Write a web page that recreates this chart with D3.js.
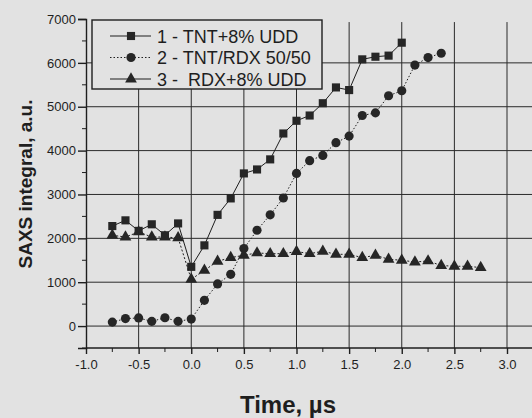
<!DOCTYPE html>
<html>
<head>
<meta charset="utf-8">
<script src="https://cdn.jsdelivr.net/npm/d3@7"></script>
<style>
  body { margin: 0; background: #e2e2e2; }
  svg { display: block; font-family: "Liberation Sans", Arial, sans-serif; }
</style>
</head>
<body>
<svg id="chart" width="532" height="418"></svg>
<script>
// time axis, microseconds
const timeTnt = [-0.75, -0.625, -0.5, -0.375, -0.25, -0.125, 0, 0.125, 0.25, 0.375, 0.5, 0.625,
  0.75, 0.875, 1.0, 1.125, 1.25, 1.375, 1.5, 1.625, 1.75, 1.875, 2.0];
const timeMix = [-0.75, -0.625, -0.5, -0.375, -0.25, -0.125, 0, 0.125, 0.25, 0.375, 0.5, 0.625,
  0.75, 0.875, 1.0, 1.125, 1.25, 1.375, 1.5, 1.625, 1.75, 1.875, 2.0, 2.125, 2.25, 2.375];
const timeRdx = [-0.75, -0.625, -0.5, -0.375, -0.25, -0.125, 0, 0.125, 0.25, 0.375, 0.5, 0.625,
  0.75, 0.875, 1.0, 1.125, 1.25, 1.375, 1.5, 1.625, 1.75, 1.875, 2.0, 2.125, 2.25, 2.375,
  2.5, 2.625, 2.75];

// SAXS integral, a.u.
const tntUdd = [2280, 2410, 2170, 2320, 2070, 2340, 1350, 1840, 2535, 2910, 3480, 3570,
  3800, 4390, 4680, 4800, 5080, 5440, 5380, 6080, 6140, 6165, 6460];
const tntRdx = [90, 170, 185, 107, 190, 107, 160, 587, 960, 1180, 1767, 2185,
  2535, 2920, 3480, 3770, 3890, 4180, 4330, 4800, 4860, 5250, 5365, 5950, 6120, 6220];
const rdxUdd = [2070, 2030, 2145, 2030, 2030, 2010, 1066, 1270, 1477, 1560, 1614, 1667,
  1650, 1650, 1700, 1650, 1705, 1636, 1636, 1560, 1614, 1523, 1500, 1460, 1484, 1380,
  1363, 1363, 1333];

const seriesNames = ['1 - TNT+8% UDD', '2 - TNT/RDX 50/50', '3 -  RDX+8% UDD'];
const xTicks = [-1.0, -0.5, 0.0, 0.5, 1.0, 1.5, 2.0, 2.5, 3.0];
const yTicks = [0, 1000, 2000, 3000, 4000, 5000, 6000, 7000];

const ink = '#1e1e1e';
const svg = d3.select('#chart');

const x = d3.scaleLinear().domain([-1, 3]).range([86, 507]);
const y = d3.scaleLinear().domain([-500, 7000]).range([348, 19]);
const xMax = 3.4;

// grid
const grid = svg.append('g').attr('stroke', '#2a2a2a').attr('stroke-width', 1);
grid.selectAll('line.gy')
  .data(yTicks.filter(v => v < 7000))
  .join('line')
  .attr('x1', x(-1)).attr('x2', x(xMax))
  .attr('y1', d => y(d)).attr('y2', d => y(d));
grid.selectAll('line.gx')
  .data(xTicks.filter(v => v > -1))
  .join('line')
  .attr('x1', d => x(d)).attr('x2', d => x(d))
  .attr('y1', y(-500)).attr('y2', y(6930));

// axes
const fmtX = d => d3.format('.1f')(d).replace('−', '-');
const xAxis = svg.append('g')
  .attr('transform', `translate(0,${y(-500)})`)
  .call(d3.axisBottom(x).tickValues(xTicks).tickFormat(fmtX).tickSizeOuter(0).tickSize(6).tickPadding(6));
xAxis.select('.domain').attr('d', `M${x(-1)},0H${x(xMax)}`);
xAxis.append('g')
  .selectAll('line')
  .data([-0.75, -0.25, 0.25, 0.75, 1.25, 1.75, 2.25, 2.75])
  .join('line')
  .attr('x1', d => x(d)).attr('x2', d => x(d))
  .attr('y1', 0).attr('y2', 4)
  .attr('stroke', ink);

const yAxis = svg.append('g')
  .attr('transform', `translate(${x(-1)},0)`)
  .call(d3.axisLeft(y).tickValues(yTicks).tickFormat(d3.format('d')).tickSizeOuter(0).tickSize(8).tickPadding(2));
yAxis.append('g')
  .selectAll('line')
  .data([-500, 500, 1500, 2500, 3500, 4500, 5500, 6500])
  .join('line')
  .attr('x1', -4).attr('x2', 0)
  .attr('y1', d => y(d)).attr('y2', d => y(d))
  .attr('stroke', ink);

svg.selectAll('.domain, .tick line').attr('stroke', ink).attr('stroke-width', 1.4);
svg.selectAll('.tick text').attr('fill', ink).attr('font-size', 13)
  .attr('font-family', '"Liberation Sans", Arial, sans-serif');

// titles
svg.append('text')
  .attr('x', 288).attr('y', 413)
  .attr('text-anchor', 'middle')
  .attr('font-size', 24).attr('font-weight', 'bold').attr('fill', ink)
  .text('Time, µs');
svg.append('text')
  .attr('transform', 'translate(32,184) rotate(-90)')
  .attr('text-anchor', 'middle')
  .attr('font-size', 19).attr('font-weight', 'bold').attr('fill', ink)
  .text('SAXS integral, a.u.');

// series
const series = [
  { t: timeTnt, v: tntUdd, dash: null, marker: d3.symbolSquare, size: 66 },
  { t: timeMix, v: tntRdx, dash: '1.5,2', marker: d3.symbolCircle, size: 66 },
  { t: timeRdx, v: rdxUdd, dash: '2,2', marker: d3.symbolTriangle, size: 60 }
];

const line = d3.line().x(d => x(d[0])).y(d => y(d[1]));

series.forEach(s => {
  const pts = s.t.map((t, i) => [t, s.v[i]]);
  svg.append('path')
    .datum(pts)
    .attr('d', line)
    .attr('fill', 'none')
    .attr('stroke', ink)
    .attr('stroke-width', 1)
    .attr('stroke-dasharray', s.dash);
  svg.append('g')
    .selectAll('path')
    .data(pts)
    .join('path')
    .attr('transform', d => `translate(${x(d[0])},${y(d[1])})`)
    .attr('d', d3.symbol(s.marker, s.size))
    .attr('fill', '#262626');
});

// legend
const legend = svg.append('g');
legend.append('rect')
  .attr('x', 92).attr('y', 20).attr('width', 230).attr('height', 69)
  .attr('fill', '#e2e2e2').attr('stroke', ink).attr('stroke-width', 1.4);

const legendRows = legend.selectAll('g.row')
  .data(series)
  .join('g')
  .attr('transform', (d, i) => `translate(0,${36 + i * 21.5})`);
legendRows.append('line')
  .attr('x1', 110).attr('x2', 151)
  .attr('stroke', ink)
  .attr('stroke-width', 1.2)
  .attr('stroke-dasharray', (d, i) => i === 1 ? d.dash : null);
legendRows.append('path')
  .attr('transform', 'translate(131,0)')
  .attr('d', d => d3.symbol(d.marker, d.size)())
  .attr('fill', '#262626');
legendRows.append('text')
  .attr('x', 157).attr('y', 6.5)
  .attr('font-size', 18).attr('fill', ink)
  .style('white-space', 'pre')
  .text((d, i) => seriesNames[i]);
</script>
</body>
</html>
